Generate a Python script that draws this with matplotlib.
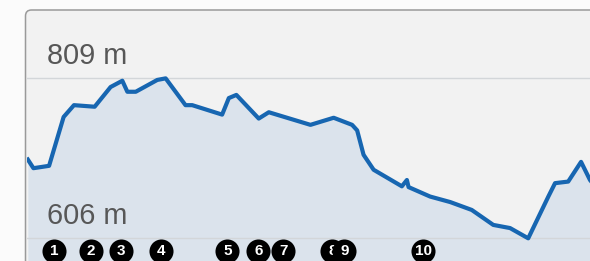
import matplotlib
matplotlib.use("Agg")
import matplotlib.pyplot as plt
from matplotlib.patches import FancyBboxPatch
from matplotlib.transforms import IdentityTransform

# elevation profile (km, m)
dist = [0.0, 0.2, 0.76, 1.28, 1.65, 2.39, 2.96, 3.38, 3.56, 3.86, 4.63, 4.93,
        5.64, 5.88, 6.95, 7.19, 7.46, 8.26, 8.62, 10.11, 10.94, 11.60, 11.78,
        12.01, 12.37, 13.38, 13.56, 13.62, 14.39, 15.11, 15.88, 16.65, 17.25,
        17.90, 18.62, 18.86, 19.33, 19.79, 20.11, 20.46]
elev = [706, 695, 698, 760, 775, 773, 798, 806, 792, 792, 807, 809,
        775, 775, 763, 784, 788, 758, 766, 750, 759, 750, 743,
        712, 693, 672, 680, 671, 659, 652, 642, 623, 619,
        606, 659, 676, 678, 703, 680, 665]

# waypoints along the route
wp_dist = [0.93, 2.25, 3.32, 4.75, 7.14, 8.25, 9.14, 10.89, 11.32, 14.14]
wp_labels = ["1", "2", "3", "4", "5", "6", "7", "8", "9", "10"]

ticks = [606, 809]

W, H = 590, 261
fig = plt.figure(figsize=(W / 100, H / 100), dpi=100)
fig.patch.set_facecolor("#fbfbfb")

# rounded panel (bottom and right run off the picture)
panel = FancyBboxPatch((25.5, -30), 700, H - 10 + 30, boxstyle="round,pad=0,rounding_size=6",
                       transform=IdentityTransform(), facecolor="#f2f2f2",
                       edgecolor="#9a9a9a", linewidth=1.1, zorder=-1)
fig.add_artist(panel)

ax = fig.add_axes([27 / W, 0, (W - 27) / W, (H - 11) / H])
ax.patch.set_alpha(0)
for s in ax.spines.values():
    s.set_visible(False)

ax.set_xlim(-0.03, 20.11)
ax.set_ylim(577.2, 894.5)

ax.fill_between(dist, elev, 500, color="#dbe3ec", lw=0, zorder=1)
for t in ticks:
    ax.axhline(t, color="#d3d6d9", lw=1, zorder=2)
    ax.annotate(f"{t} m", xy=(0.68, t), xytext=(0, 10), textcoords="offset points",
                va="baseline", ha="left", fontsize=20.8, color="#575757",
                family="Liberation Sans", zorder=3)
ax.plot(dist, elev, color="#1766b1", lw=3.0, solid_joinstyle="round", zorder=4)

for i, (d, lab) in enumerate(zip(wp_dist, wp_labels)):
    ax.scatter([d], [590.5], s=300, color="black", lw=0, zorder=5 + 2 * i)
    ax.text(d, 590.5, lab, color="white", fontsize=11, fontweight="bold",
            ha="center", va="center", family="Liberation Sans", zorder=6 + 2 * i)

ax.set_xticks([])
ax.set_yticks([])

fig.savefig("out.png", dpi=100, facecolor=fig.get_facecolor())
